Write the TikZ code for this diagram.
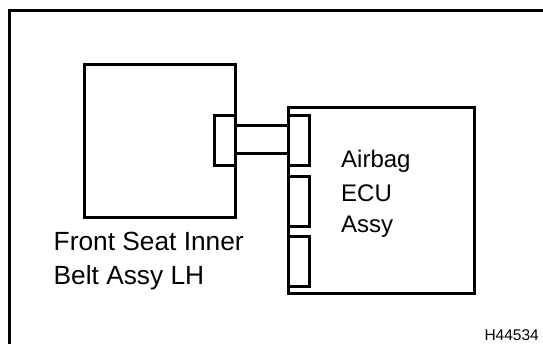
\documentclass[tikz,border=0pt]{standalone}
\usepackage{fontspec}
\setmainfont{Liberation Sans}
\begin{document}
\begin{tikzpicture}[x=1pt,y=-1pt,
  part/.style={draw=black, line width=3pt, inner sep=0pt, anchor=north west},
  plug/.style={part, minimum width=20.5pt, minimum height=50pt},
  lbl/.style={inner sep=0pt, anchor=base west, font=\fontsize{24}{30}\selectfont},
  biglbl/.style={lbl, font=\fontsize{26.3}{30}\selectfont},
  wire/.style={draw=black, line width=3pt}]
\useasboundingbox (0,0) rectangle (543,344);
\draw[line width=2.6pt] (9.7,10.3) rectangle (560,360);
% main boxes
\node[part, minimum width=151.5pt, minimum height=153pt] (seat) at (82.5,63) {};
\node[part, minimum width=186pt, minimum height=186pt] (ecu) at (287,106.5) {};
% connectors
\node[plug] (lc) at (213,114.5) {};
\node[plug] (rc1) at (287,114.5) {};
\node[plug] (rc2) at (287,175) {};
\node[plug] (rc3) at (287,235) {};
% wire
\draw[wire] (seat.east |- 0,126) -- (rc1.west |- 0,126);
\draw[wire] (seat.east |- 0,154) -- (rc1.west |- 0,154);
% labels
\node[lbl] (t1) at (341,168) {Airbag};
\node[lbl] (t2) at (341,201.5) {ECU};
\node[lbl] (t3) at (341,233) {Assy};
\node[biglbl] (t4) at (53.5,251) {Front Seat Inner};
\node[biglbl] (t5) at (53.5,285) {Belt Assy LH};
\node[inner sep=0pt, anchor=base east, font=\fontsize{15.5}{18}\selectfont] (code) at (539,341) {H44534};
\end{tikzpicture}
\end{document}
